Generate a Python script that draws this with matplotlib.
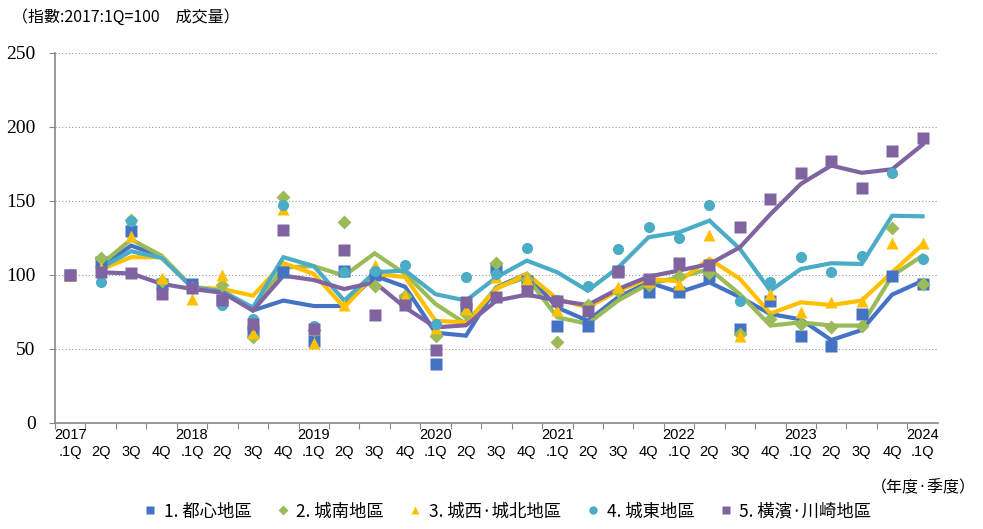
import numpy as np
import matplotlib
matplotlib.use("Agg")
import matplotlib.pyplot as plt
from matplotlib.lines import Line2D

plt.rcParams['font.family'] = ['Noto Sans CJK JP', 'DejaVu Sans']

# quarters 2017 1Q .. 2024 1Q
years = [2017, 2018, 2019, 2020, 2021, 2022, 2023, 2024]
qlabels = []
for y in years:
    for q in ['.1Q', '2Q', '3Q', '4Q']:
        if y == 2024 and q != '.1Q':
            continue
        qlabels.append(q)

names = ['1. 都心地區', '2. 城南地區', '3. 城西·城北地區', '4. 城東地區', '5. 橫濱·川崎地區']
colors = ['#4472C4', '#9BBB59', '#FFC000', '#4BACC6', '#8064A2']
markers = ['s', 'D', '^', 'o', 's']

# quarterly values (markers)
toshin = [100, 108.5, 130, 94, 94, 83, 62, 102, 55.6, 103, 100, 83, 40, 78, 105, 96,
          65.8, 65.8, 103, 88.3, 88.3, 99.5, 63.5, 82.7, 59, 52.3, 73.6, 99.5, 94]
jonan = [100, 111.5, 137, 96, 91, 93, 58, 152.5, 63, 135.6, 92.8, 86, 59, 73.6, 108, 97,
         55, 80, 89, 93, 99.5, 101, 60, 70, 67, 64.6, 65.8, 131.5, 94]
josai = [100, 105, 126.5, 98, 83.5, 100, 61, 144.6, 54, 80, 107, 86, 64, 77, 98.4, 97,
         76, 78, 92, 96, 94, 127, 59, 87, 75, 81.5, 82.7, 121.5, 121.5]
joto = [100, 95.5, 136.7, 87, 91, 80, 70, 147, 65.8, 102, 103, 106.8, 67, 98.4, 100.7, 118,
        83, 92.3, 117.6, 132.7, 125, 147.3, 82.7, 95, 112.4, 101.8, 113, 168.7, 111]
yokohama = [100, 102, 101, 87, 91, 83, 67, 130.6, 63.5, 117, 73, 80, 49, 81.5, 85, 89,
            82.7, 75.5, 101.8, 97, 108, 107, 132.7, 151, 169, 177, 159, 184, 192.6]

# trend lines
toshin_ln = [np.nan, 105.6, 119.8, 112.6, 91.7, 89, 76, 82.7, 79, 79, 99.5, 92, 61, 59, 91.7, 100.7,
             78, 69, 85, 95, 88.3, 95, 85, 73.6, 70, 56, 62.8, 86.7, 96]
jonan_ln = [np.nan, 107, 124, 113, 91.7, 89, 76, 105, 106, 99.5, 114.6, 100.7, 80.4, 67, 91.7, 98.4,
            71.4, 67, 82.7, 94, 98.4, 104, 87, 65.8, 68, 65.8, 65.8, 99.5, 113]
josai_ln = [np.nan, 103.6, 112, 112, 91.7, 90.5, 86, 108, 100.7, 78, 100.7, 98.6, 69, 68, 90.5, 100.7,
            83.8, 78, 89.4, 97.3, 95.7, 110.8, 97.3, 74, 81.5, 79.7, 82.7, 101.8, 120.5]
joto_ln = [np.nan, 104.7, 116, 111.5, 91.7, 89, 78, 112, 106, 82.7, 101.8, 103, 87, 82.7, 98.4, 109.7,
           101.8, 89.4, 105, 125.5, 128.8, 136.7, 117.6, 89.4, 104, 107.9, 107.4, 140, 139.6]
yokohama_ln = [np.nan, 101.8, 101, 94, 90.5, 88, 76, 99.5, 96.6, 90.5, 95, 78, 64.6, 66, 82.7, 86.7,
               82.7, 79.7, 90.5, 98.9, 103, 107.4, 118.7, 141, 161.5, 173.9, 169, 171.4, 188]

points = [toshin, jonan, josai, joto, yokohama]
lines = [toshin_ln, jonan_ln, josai_ln, joto_ln, yokohama_ln]

fig = plt.figure(figsize=(9.83, 5.29), dpi=100)
ax = fig.add_axes([0.056, 0.2004, 0.898, 0.6996])
x = np.arange(len(qlabels))

for ln, c in zip(lines, colors):
    ax.plot(x, ln, color=c, lw=3.0, solid_joinstyle='miter', zorder=2)
for pts, c, m in zip(points, colors, markers):
    ms = 7 if m == 'D' else 8
    ax.plot(x, pts, ls='none', marker=m, color=c, ms=ms, mec='none', zorder=3)

ax.set_xlim(-0.5, len(qlabels) - 0.5)
ax.set_ylim(0, 250)
ax.set_yticks(np.arange(0, 251, 50))
ax.set_yticklabels([str(v) for v in range(0, 251, 50)], family='Liberation Serif', fontsize=14)
ax.grid(axis='y', ls=(0, (1, 2)), color='#999999', lw=0.8)
ax.set_axisbelow(True)

ax.set_xticks(np.arange(len(qlabels)) - 0.5, minor=False)
ax.set_xticklabels([])
ax.tick_params(axis='x', length=4, color='#888888', direction='out')
ax.tick_params(axis='y', length=4, color='#888888', direction='out', pad=10)
ax.set_xticks(x, minor=True)
ax.tick_params(axis='x', which='minor', length=0)
labs = []
for i, q in enumerate(qlabels):
    if q == '.1Q':
        labs.append(f"{years[i // 4]}\n.1Q")
    else:
        labs.append("\n" + q)
ax.set_xticklabels(labs, minor=True, family='Liberation Sans', fontsize=10.5, linespacing=1.3)

for s in ['top', 'right']:
    ax.spines[s].set_visible(False)
for s in ['left', 'bottom']:
    ax.spines[s].set_color('#888888')
    ax.spines[s].set_linewidth(1.2)

fig.text(0.012, 0.968, '（指數:2017:1Q=100　成交量）', fontsize=11.5, va='center', ha='left')
fig.text(0.993, 0.077, '（年度·季度）', fontsize=11.5, va='center', ha='right')

handles = [Line2D([], [], ls='none', marker=m, color=c, ms=(5 if m == 'D' else 6), mec='none')
           for m, c in zip(markers, colors)]
fig.legend(handles, names, loc='center', bbox_to_anchor=(0.515, 0.033), ncol=5, frameon=False,
           fontsize=12.5, handletextpad=0.3, columnspacing=1.3, handlelength=1.0)

fig.savefig('out.png', dpi=100)
